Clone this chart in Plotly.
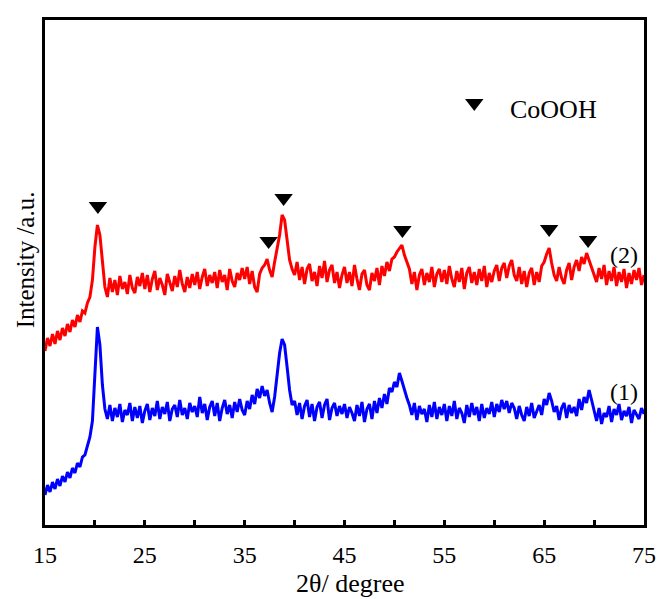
import plotly.graph_objects as go

# 2-theta scan grid (degrees), step 0.25
two_theta_start = 15.0
two_theta_step = 0.25
n_points = 241
two_theta = [two_theta_start + two_theta_step * i for i in range(n_points)]

# Sample (1) intensity (a.u.)
intensity_1 = [
    30, 40, 33, 43, 36, 46, 39, 49, 43, 53, 47, 57, 52, 62, 58, 68, 70, 80, 88, 104,
    150, 198, 180, 140, 116, 106, 120, 104, 117, 108, 121, 103, 115, 110, 122, 104, 118, 107, 119, 102,
    114, 121, 105, 117, 109, 124, 106, 118, 111, 123, 104, 116, 120, 108, 125, 110, 117, 106, 122, 113,
    119, 108, 128, 112, 121, 105, 118, 124, 109, 122, 104, 117, 125, 111, 120, 107, 123, 113, 126, 115,
    110, 124, 116, 130, 121, 136, 127, 139, 129, 135, 122, 113, 128, 150, 172, 186, 180, 158, 135, 120,
    124, 110, 122, 106, 119, 125, 108, 121, 104, 118, 123, 107, 120, 126, 105, 117, 122, 109, 119, 111,
    121, 107, 118, 112, 104, 120, 109, 123, 103, 116, 121, 106, 124, 112, 127, 117, 131, 121, 137, 133,
    143, 138, 152, 144, 135, 127, 120, 110, 122, 105, 119, 111, 116, 103, 120, 108, 123, 106, 118, 110,
    121, 104, 119, 109, 124, 106, 117, 112, 102, 120, 108, 122, 110, 118, 104, 121, 107, 117, 111, 123,
    108, 121, 113, 125, 116, 124, 112, 122, 117, 106, 119, 110, 104, 118, 109, 122, 107, 114, 120, 110,
    126, 120, 132, 124, 113, 119, 105, 117, 122, 107, 120, 112, 118, 109, 126, 115, 128, 122, 135, 125,
    115, 104, 117, 101, 112, 108, 119, 103, 116, 110, 121, 105, 114, 109, 118, 102, 115, 110, 106, 117,
    111,
]

# Sample (2) intensity (a.u.)
intensity_2 = [
    174, 187, 179, 191, 181, 194, 185, 197, 189, 201, 193, 205, 198, 210, 203, 214, 212, 222, 228, 245,
    278, 300, 290, 262, 238, 228, 247, 233, 245, 230, 249, 236, 243, 231, 250, 237, 232, 248, 239, 252,
    236, 250, 233, 246, 254, 235, 247, 240, 230, 251, 242, 234, 249, 238, 255, 241, 233, 248, 237, 251,
    240, 253, 236, 248, 256, 239, 250, 242, 253, 237, 255, 243, 250, 235, 256, 244, 238, 252, 245, 257,
    246, 258, 241, 254, 238, 233, 251, 257, 260, 266, 255, 248, 263, 275, 290, 310, 305, 285, 265, 256,
    250, 263, 245, 258, 241, 256, 261, 244, 253, 239, 259, 247, 264, 243, 255, 260, 242, 253, 237, 250,
    258, 242, 253, 239, 260, 246, 235, 251, 255, 240, 235, 252, 244, 257, 240, 259, 249, 263, 254, 266,
    268, 273, 276, 280, 270, 262, 256, 241, 253, 235, 250, 256, 240, 252, 243, 258, 238, 251, 256, 243,
    255, 241, 259, 246, 238, 254, 243, 257, 236, 252, 258, 242, 253, 240, 256, 244, 259, 238, 252, 243,
    254, 260, 244, 257, 262, 247, 259, 265, 250, 244, 258, 241, 254, 238, 252, 257, 240, 253, 243, 259,
    263, 271, 277, 262, 250, 244, 258, 247, 241, 255, 262, 245, 258, 265, 254, 268, 261, 272, 265, 256,
    249, 243, 257, 246, 260, 240, 254, 244, 258, 239, 253, 243, 256, 237, 252, 241, 255, 245, 257, 240,
    250,
]

assert len(intensity_1) == n_points and len(intensity_2) == n_points

# CoOOH reflection markers
coooh_two_theta = [20.3, 37.4, 38.9, 50.8, 65.5, 69.4]
coooh_height = [319, 284, 327, 295, 296, 285]

legend_marker_x = [58.0]
legend_marker_y = [422]
legend_label = "CoOOH"

x_tick_values = [15, 20, 25, 30, 35, 40, 45, 50, 55, 60, 65, 70, 75]
x_tick_labels = ["15", "", "25", "", "35", "", "45", "", "55", "", "65", "", "75"]

FONT = "Liberation Serif, Times New Roman, serif"

fig = go.Figure()
fig.add_trace(go.Scatter(x=two_theta, y=intensity_1, mode="lines",
                         line=dict(color="#0000FF", width=3), showlegend=False))
fig.add_trace(go.Scatter(x=two_theta, y=intensity_2, mode="lines",
                         line=dict(color="#FF0000", width=3), showlegend=False))
fig.add_trace(go.Scatter(x=coooh_two_theta, y=coooh_height, mode="markers",
                         marker=dict(symbol="triangle-down", size=16, color="black"),
                         showlegend=False))
fig.add_trace(go.Scatter(x=legend_marker_x, y=legend_marker_y, mode="markers",
                         marker=dict(symbol="triangle-down", size=16, color="black"),
                         showlegend=False))

fig.add_annotation(x=61.4, y=416, xref="x", yref="y", text=legend_label,
                   showarrow=False, xanchor="left", yanchor="middle",
                   font=dict(family=FONT, size=26, color="black"))
fig.add_annotation(x=71.4, y=270, xref="x", yref="y", text="(2)",
                   showarrow=False, xanchor="left", yanchor="middle",
                   font=dict(family=FONT, size=24, color="black"))
fig.add_annotation(x=71.4, y=133, xref="x", yref="y", text="(1)",
                   showarrow=False, xanchor="left", yanchor="middle",
                   font=dict(family=FONT, size=24, color="black"))

# axis titles (plot area spans 609 x 505 px)
fig.add_annotation(x=(355 - 45) / 609, y=(525 - 583) / 505, xref="paper", yref="paper",
                   text="2θ/ degree", showarrow=False, xanchor="center", yanchor="middle",
                   font=dict(family=FONT, size=26, color="black"))
fig.add_annotation(x=(25 - 45) / 609, y=(525 - 260) / 505, xref="paper", yref="paper",
                   text="Intensity /a.u.", showarrow=False, textangle=-90,
                   xanchor="center", yanchor="middle",
                   font=dict(family=FONT, size=25, color="black"))

fig.update_layout(
    width=668, height=599,
    margin=dict(l=45, r=14, t=20, b=74),
    paper_bgcolor="white", plot_bgcolor="white",
    font=dict(family=FONT, size=24, color="black"),
)
fig.update_xaxes(range=[15, 75], tickvals=x_tick_values, ticktext=x_tick_labels,
                 ticks="inside", ticklen=5, tickwidth=2.5, tickcolor="black",
                 showline=True, linewidth=2.5, linecolor="black", mirror=True,
                 showgrid=False, zeroline=False, ticklabelstandoff=6,
                 ticklabeloverflow="allow",
                 tickfont=dict(family=FONT, size=24, color="black"))
fig.update_yaxes(range=[0, 505], showticklabels=False, ticks="",
                 showline=True, linewidth=2.5, linecolor="black", mirror=True,
                 showgrid=False, zeroline=False)

fig.write_html(
    "out.html",
    config={"displayModeBar": False},
    post_script="document.body.style.margin='0';document.body.style.overflow='hidden';",
)
